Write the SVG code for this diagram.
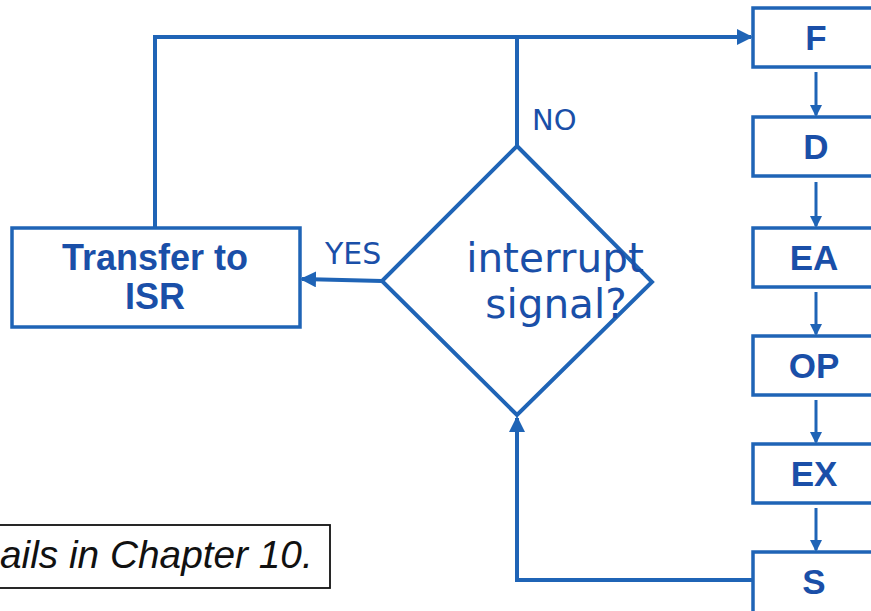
<svg xmlns="http://www.w3.org/2000/svg" width="871" height="611" viewBox="0 0 871 611">
<style>
.ln{fill:none;stroke:#1f64b6;stroke-width:4}
.sl{fill:none;stroke:#1f64b6;stroke-width:3}
.bx{fill:#fff;stroke:#1f64b6;stroke-width:3.5}
.bt{font-family:"Liberation Sans",Arial,sans-serif;font-weight:bold;fill:#1a4fa8;text-anchor:middle}
.lt{font-family:"DejaVu Sans",sans-serif;fill:#1a4fa8}
</style>
<defs>
<marker id="ah" markerWidth="12" markerHeight="12" refX="10" refY="6" orient="auto" markerUnits="userSpaceOnUse" viewBox="0 0 12 12">
<path d="M0,0 L12,6 L0,12 z" fill="#1f64b6"/>
</marker>
<marker id="ahL" markerWidth="16" markerHeight="16" refX="14" refY="8" orient="auto" markerUnits="userSpaceOnUse" viewBox="0 0 16 16">
<path d="M0,0 L16,8 L0,16 z" fill="#1f64b6"/>
</marker>
</defs>
<g id="connectors">
<polyline class="ln" points="155,228 155,37 751,37" marker-end="url(#ahL)"/>
<line class="ln" x1="517" y1="37" x2="517" y2="146"/>
<line class="ln" x1="382" y1="281" x2="302" y2="279" marker-end="url(#ahL)"/>
<polyline class="ln" points="753,580 517,580 517,418" marker-end="url(#ahL)"/>
<line class="sl" x1="816" y1="72" x2="816" y2="115" marker-end="url(#ah)"/>
<line class="sl" x1="816" y1="182" x2="816" y2="226" marker-end="url(#ah)"/>
<line class="sl" x1="816" y1="292" x2="816" y2="334" marker-end="url(#ah)"/>
<line class="sl" x1="816" y1="400" x2="816" y2="442" marker-end="url(#ah)"/>
<line class="sl" x1="816" y1="508" x2="816" y2="550" marker-end="url(#ah)"/>
<text class="lt" x="532" y="130" font-size="29">NO</text>
<text class="lt" x="325" y="264" font-size="30">YES</text>
</g>
<g id="isr">
<rect class="bx" x="12" y="228" width="288" height="99"/>
<text class="bt" x="155" y="270" font-size="36">Transfer to</text>
<text class="bt" x="155" y="309" font-size="36">ISR</text>
</g>
<g id="decision">
<polygon class="ln" points="517,146 652,282 517,415 382,281"/>
<text class="lt" x="555" y="272" font-size="40.5" text-anchor="middle">interrupt</text>
<text class="lt" x="556" y="318" font-size="40.5" text-anchor="middle">signal?</text>
</g>
<g id="F"><rect class="bx" x="753" y="8" width="130" height="59"/><text class="bt" x="816" y="50" font-size="35">F</text></g>
<g id="D"><rect class="bx" x="753" y="117" width="130" height="59"/><text class="bt" x="816" y="159" font-size="35">D</text></g>
<g id="EA"><rect class="bx" x="753" y="228" width="130" height="59"/><text class="bt" x="814" y="270" font-size="35">EA</text></g>
<g id="OP"><rect class="bx" x="753" y="336" width="130" height="59"/><text class="bt" x="814" y="378" font-size="35">OP</text></g>
<g id="EX"><rect class="bx" x="753" y="444" width="130" height="59"/><text class="bt" x="814" y="486" font-size="35">EX</text></g>
<g id="S"><rect class="bx" x="753" y="552" width="130" height="62"/><text class="bt" x="814" y="594" font-size="35">S</text></g>
<g id="note">
<rect x="-10" y="525" width="340" height="63" fill="#fff" stroke="#111" stroke-width="1.8"/>
<text x="0" y="568" font-family="Liberation Sans,Arial,sans-serif" font-style="italic" font-size="38.8" fill="#111">ails in Chapter 10.</text>
</g>
</svg>
